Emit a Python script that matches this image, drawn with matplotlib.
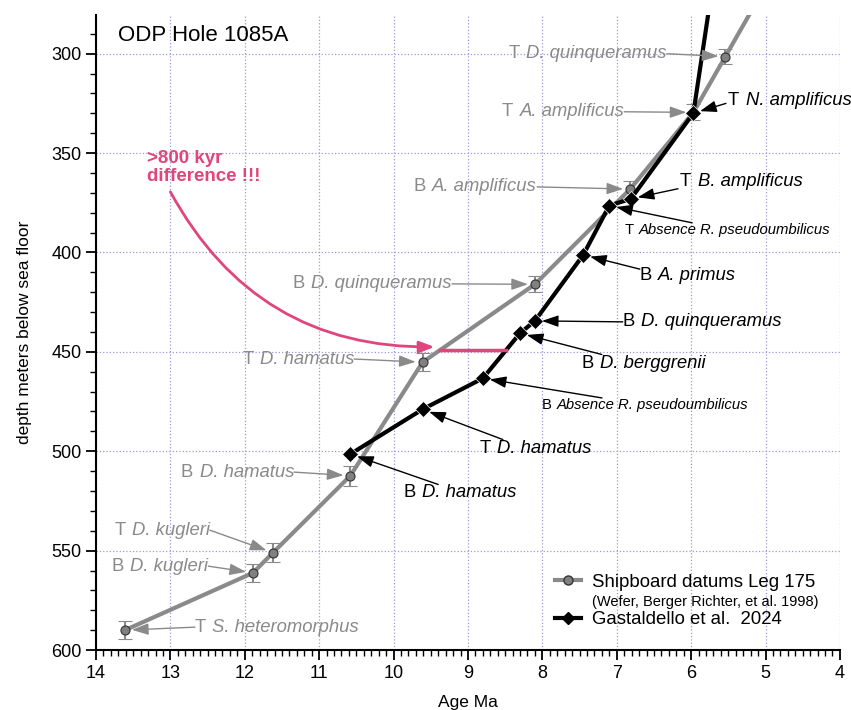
import numpy as np
import matplotlib
matplotlib.use("Agg")
import matplotlib.pyplot as plt
from matplotlib.lines import Line2D
from matplotlib.text import OffsetFrom
from matplotlib.ticker import MultipleLocator

plt.rcParams['font.family'] = ['Liberation Sans', 'DejaVu Sans']

# shipboard datums, Leg 175 (age Ma, depth mbsf, depth error)
ship_names = ["T S. heteromorphus", "B D. kugleri", "T D. kugleri", "B D. hamatus",
              "T D. hamatus", "B D. quinqueramus", "B A. amplificus",
              "T A. amplificus", "T D. quinqueramus"]
ship_age = [13.61, 11.89, 11.62, 10.58, 9.61, 8.10, 6.82, 5.97, 5.54]
ship_depth = [590.0, 561.2, 551.0, 512.3, 455.2, 416.0, 368.1, 329.5, 301.4]
ship_err = [4.5, 4.7, 4.7, 5.0, 4.5, 4.0, 4.0, 4.0, 4.0]
# the line runs on past the top datum
ship_line_age = ship_age + [5.0]
ship_line_depth = ship_depth + [266.0]

# Gastaldello et al. 2024
gast_names = ["B D. hamatus", "T D. hamatus", "B Absence R. pseudoumbilicus",
              "B D. berggrenii", "B D. quinqueramus", "B A. primus",
              "T Absence R. pseudoumbilicus", "T B. amplificus", "T N. amplificus"]
gast_age = [10.58, 9.61, 8.80, 8.30, 8.10, 7.45, 7.10, 6.81, 5.97]
gast_depth = [501.4, 478.9, 463.3, 440.6, 434.4, 401.2, 376.4, 373.0, 329.9]
gast_err = [1.5, 1.5, 1.5, 1.5, 1.5, 1.5, 1.5, 1.5, 1.5]
gast_line_age = gast_age + [5.71]
gast_line_depth = gast_depth + [265.0]

gap_depth = 449.0

GRAY = '#8a8a8a'
PINK = '#e0457b'
ARROW = '-|>,head_length=1.0,head_width=0.35'


def put_label(name, xy, txt, ha, fs, color, start):
    # upright T/B prefix, italic species name
    pre, sp = name.split(" ", 1)
    kw = dict(fontsize=fs, color=color, zorder=7)
    if ha == 'left':
        t1 = ax.text(txt[0], txt[1], pre, ha='left', va='center', **kw)
        t2 = ax.annotate(sp, xy=(1, 0), xycoords=t1, xytext=(0.34 * fs, 0),
                         textcoords='offset points', ha='left', va='bottom',
                         fontstyle='italic', **kw)
    else:
        t2 = ax.text(txt[0], txt[1], sp, ha='right', va='center',
                     fontstyle='italic', **kw)
        t1 = ax.annotate(pre, xy=(0, 0), xycoords=t2, xytext=(-0.34 * fs, 0),
                         textcoords='offset points', ha='right', va='bottom', **kw)
    which, ref, dx = start
    anchor = t1 if which == 'pre' else t2
    ax.annotate("", xy=xy, xytext=(dx, 0),
                textcoords=OffsetFrom(anchor, ref, unit='pixels'),
                arrowprops=dict(arrowstyle=ARROW, color=color, lw=1,
                                shrinkA=0, shrinkB=5), zorder=7)


fig = plt.figure(figsize=(8.51, 7.10), dpi=100)
ax = fig.add_axes([0.1128, 0.0845, 0.8742, 0.8944])

ax.plot(ship_line_age, ship_line_depth, color=GRAY, lw=3, zorder=3)
ax.errorbar(ship_age, ship_depth, yerr=ship_err, fmt='o', color=GRAY, ms=6.5,
            mfc='#808080', mec='#333333', mew=0.8, ecolor=GRAY, elinewidth=1.5,
            capsize=5, capthick=1.5, zorder=4)
ax.plot(gast_line_age, gast_line_depth, color='black', lw=3, zorder=5)
ax.errorbar(gast_age, gast_depth, yerr=gast_err, fmt='D', color='black', ms=8,
            mec='white', mew=0.5, ecolor='black', elinewidth=1, capsize=3,
            capthick=1, zorder=6)

# label positions for the shipboard datums
ship_txt = [(12.67, 588.5, 'left'), (12.49, 557.8, 'right'),
            (12.47, 539.7, 'right'), (11.34, 510.5, 'right'),
            (10.53, 453.6, 'right'), (9.215, 415.8, 'right'),
            (8.07, 367.0, 'right'), (6.90, 329.2, 'right'),
            (6.325, 300.0, 'right')]
for n, a, d, (tx, ty, ha) in zip(ship_names, ship_age, ship_depth, ship_txt):
    start = ('pre', (0, 0.5), 0) if ha == 'left' else ('sp', (1, 0.5), 0)
    put_label(n, (a, d), (tx, ty), ha, 13.3, GRAY, start)

# label positions for the new datums: (x, y, size, arrow start offset, rel y)
gast_txt = [(9.87, 521.0, 13.3, 35, 1), (8.84, 498.4, 13.3, 23, 1),
            (8.005, 476.7, 10.7, 60, 1), (7.47, 455.6, 13.3, 20, 1),
            (6.92, 434.9, 13.3, 0, 0.5), (6.69, 411.8, 13.3, 0, 0.9),
            (6.90, 388.6, 10.7, 68, 1), (6.15, 364.5, 13.3, -2, 0.1),
            (5.505, 323.7, 13.3, -2, 0.35)]
for n, a, d, (tx, ty, fs, dx, ry) in zip(gast_names, gast_age, gast_depth, gast_txt):
    put_label(n, (a, d), (tx, ty), 'left', fs, 'black', ('pre', (0, ry), dx))

# gap between the two age models
g0 = np.interp(gap_depth, ship_depth[::-1], ship_age[::-1])
g1 = np.interp(gap_depth, gast_depth[::-1], gast_age[::-1])
ax.plot([g0, g1], [gap_depth, gap_depth], color=PINK, lw=2.5, zorder=6)
ax.text(13.31, 348.5, ">800 kyr\ndifference !!!", color=PINK, fontsize=13.5,
        fontweight='bold', ha='left', va='top', linespacing=1.05, zorder=7)
ax.annotate("", xy=(g0 + 0.08, gap_depth - 1.5), xytext=(13.0, 369.5),
            arrowprops=dict(arrowstyle='-|>,head_length=0.9,head_width=0.35',
                            color=PINK, lw=2, shrinkA=0, shrinkB=0,
                            connectionstyle='arc3,rad=0.3'), zorder=7)

ax.text(0.03, 0.985, "ODP Hole 1085A", transform=ax.transAxes, fontsize=16,
        ha='left', va='top')

ax.set_xlim(14, 4)
ax.set_ylim(600, 280.5)
ax.xaxis.set_major_locator(MultipleLocator(1))
ax.xaxis.set_minor_locator(MultipleLocator(0.1))
ax.yaxis.set_major_locator(MultipleLocator(50))
ax.yaxis.set_minor_locator(MultipleLocator(10))
ax.tick_params(which='major', direction='out', length=7, width=1.3, labelsize=13)
ax.tick_params(which='minor', direction='out', length=4, width=1)
ax.spines['top'].set_visible(False)
ax.spines['right'].set_visible(False)
ax.spines['left'].set_linewidth(1.5)
ax.spines['bottom'].set_linewidth(1.5)
ax.grid(True, which='major', color='#9a9ad8', ls=':', lw=0.9)
ax.set_axisbelow(True)
ax.set_xlabel("Age Ma", fontsize=12.5, labelpad=10)
ax.set_ylabel("depth meters below sea floor", fontsize=12.5, labelpad=14)

h1 = Line2D([], [], color=GRAY, lw=3, marker='o', ms=6.5, mfc='#808080', mec='#333333')
h2 = Line2D([], [], color='none')
h3 = Line2D([], [], color='black', lw=3, marker='D', ms=6)
leg = ax.legend([h1, h2, h3], ["Shipboard datums Leg 175",
                               "(Wefer, Berger Richter, et al. 1998)",
                               "Gastaldello et al.  2024"],
                loc='upper left', bbox_to_anchor=(0.607, 0.132), frameon=False,
                fontsize=13.4, handlelength=1.4, handletextpad=0.6,
                labelspacing=0.12, borderaxespad=0)
leg.get_texts()[1].set_fontsize(10.5)

fig.savefig("out.png", dpi=100)
